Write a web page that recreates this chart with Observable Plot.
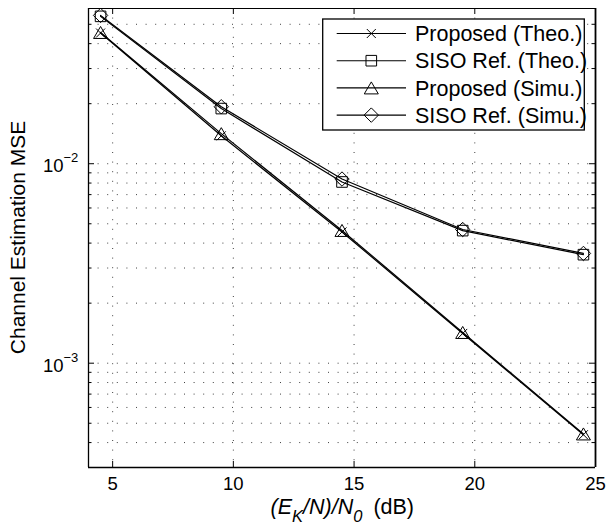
<!DOCTYPE html>
<html>
<head>
<meta charset="utf-8">
<script src="https://cdn.jsdelivr.net/npm/d3@7"></script>
<script src="https://cdn.jsdelivr.net/npm/@observablehq/plot@0.6"></script>
<style>
  html, body { margin: 0; padding: 0; background: #fff; }
</style>
</head>
<body>
<div id="chart"></div>
<script>
// ---- data ----
const snr = [4.5, 9.5, 14.5, 19.5, 24.5];
const proposedTheo = [0.0452, 0.0138, 0.00455, 0.00141, 0.000438];
const sisoTheo     = [0.0548, 0.0189, 0.00810, 0.00462, 0.00350];
const proposedSimu = [0.0455, 0.01415, 0.00463, 0.001426, 0.000442];
const sisoSimu     = [0.0554, 0.0193, 0.00838, 0.00468, 0.00355];
const seriesNames = ["Proposed (Theo.)", "SISO Ref. (Theo.)", "Proposed (Simu.)", "SISO Ref. (Simu.)"];

const xTicks = [5, 10, 15, 20, 25];
const yMajor = [1e-3, 1e-2];
const yExponents = ["−3", "−2"];
const yGrid = [3e-4, 4e-4, 5e-4, 6e-4, 7e-4, 8e-4, 9e-4,
               1e-3, 2e-3, 3e-3, 4e-3, 5e-3, 6e-3, 7e-3, 8e-3, 9e-3,
               1e-2, 2e-2, 3e-2, 4e-2, 5e-2];
const yMinor = yGrid.filter(v => !yMajor.includes(v));
const xDomain = [4, 25];
const yDomain = [3e-4, 0.06];

// ---- MATLAB-like marker symbols ----
const rad = size => Math.sqrt(size / Math.PI);
const timesSym = {draw(c, s) { const r = rad(s); c.moveTo(-r, -r); c.lineTo(r, r); c.moveTo(r, -r); c.lineTo(-r, r); }};
const squareSym = {draw(c, s) { const r = rad(s); c.moveTo(-r, -r); c.lineTo(r, -r); c.lineTo(r, r); c.lineTo(-r, r); c.closePath(); }};
const triSym = {draw(c, s) { const r = rad(s); c.moveTo(0, -r); c.lineTo(r * 1.17, r); c.lineTo(-r * 1.17, r); c.closePath(); }};
const diamondSym = {draw(c, s) { const r = rad(s); c.moveTo(0, -r); c.lineTo(r, 0); c.lineTo(0, r); c.lineTo(-r, 0); c.closePath(); }};

const series = [
  {name: seriesNames[0], values: proposedTheo, symbol: timesSym, r: 4.5},
  {name: seriesNames[1], values: sisoTheo, symbol: squareSym, r: 5.3},
  {name: seriesNames[2], values: proposedSimu, symbol: triSym, r: 6},
  {name: seriesNames[3], values: sisoSimu, symbol: diamondSym, r: 7.2}
];

const W = 608, H = 527, mL = 88, mR = 13, mT = 8, mB = 60;
const pw = W - mL - mR, ph = H - mT - mB;

const dataMarks = series.flatMap(s => {
  const rows = snr.map((x, i) => ({x, y: s.values[i]}));
  return [
    Plot.line(rows, {x: "x", y: "y", stroke: "#000", strokeWidth: 1.2}),
    Plot.dot(rows, {x: "x", y: "y", symbol: () => s.symbol, r: s.r, stroke: "#000", fill: "none", strokeWidth: 1})
  ];
});

const gridStyle = {stroke: "#000", strokeOpacity: 0.75, strokeWidth: 1, strokeDasharray: "1,8.6"};

const chart = Plot.plot({
  width: W, height: H,
  marginLeft: mL, marginRight: mR, marginTop: mT, marginBottom: mB,
  style: {fontFamily: "'Liberation Sans', Arial, Helvetica, sans-serif", background: "#fff", color: "#000"},
  x: {domain: xDomain, axis: null},
  y: {type: "log", domain: yDomain, axis: null},
  symbol: {type: "identity"},
  marks: [
    // grid
    Plot.ruleY(yGrid, {y: d => d, ...gridStyle}),
    Plot.ruleX(xTicks.slice(0, -1), {x: d => d, ...gridStyle}),
    // data
    ...dataMarks,
    // ticks (inward, both sides)
    Plot.tickX(xTicks, {x: d => d, insetTop: ph - 6, stroke: "#000"}),
    Plot.tickX(xTicks, {x: d => d, insetBottom: ph - 6, stroke: "#000"}),
    Plot.tickY(yMajor, {y: d => d, insetRight: pw - 6, stroke: "#000"}),
    Plot.tickY(yMajor, {y: d => d, insetLeft: pw - 6, stroke: "#000"}),
    Plot.tickY(yMinor, {y: d => d, insetRight: pw - 3.5, stroke: "#000"}),
    Plot.tickY(yMinor, {y: d => d, insetLeft: pw - 3.5, stroke: "#000"}),
    // box
    Plot.ruleX([xDomain[0]], {x: d => d, stroke: "#000", strokeWidth: 1.3}),
    Plot.ruleX([xDomain[1]], {x: d => d, stroke: "#000", strokeWidth: 1.8}),
    Plot.ruleY([yDomain[0]], {y: d => d, stroke: "#000", strokeWidth: 1.7}),
    Plot.ruleY([yDomain[1]], {y: d => d, stroke: "#000", strokeWidth: 1.1}),
    // tick labels
    Plot.text(xTicks, {x: d => d, text: d => String(d), frameAnchor: "bottom", dy: 17, fontSize: 18.5, lineAnchor: "middle"}),
    Plot.text(yMajor, {y: d => d, text: () => "10", frameAnchor: "left", textAnchor: "end", dx: -25, dy: 2.5, fontSize: 18.5, lineAnchor: "middle"}),
    Plot.text(yMajor, {y: d => d, text: (d, i) => yExponents[i], frameAnchor: "left", textAnchor: "start", dx: -25, dy: -5.5, fontSize: 13, lineAnchor: "middle"})
  ]
});

document.getElementById("chart").appendChild(chart);

// ---- labels & legend ----
const svg = d3.select(chart);
const yScale = chart.scale("y");

// y-axis label
svg.append("text")
  .attr("transform", `translate(25,${(yScale.apply(yDomain[0]) + yScale.apply(yDomain[1])) / 2}) rotate(-90)`)
  .attr("text-anchor", "middle")
  .attr("font-size", 21)
  .attr("fill", "#000")
  .text("Channel Estimation MSE");

// x-axis label  (E_K/N)/N_0  (dB)
const xl = svg.append("text")
  .attr("x", 270.5).attr("y", 513.5)
  .attr("text-anchor", "start")
  .attr("font-size", 21.5).attr("fill", "#000");
xl.append("tspan").attr("font-style", "italic").text("(E");
xl.append("tspan").attr("font-style", "italic").attr("font-size", 16.5).attr("dy", 8).text("K");
xl.append("tspan").attr("font-style", "italic").attr("dy", -8).text("/N)/N");
xl.append("tspan").attr("font-style", "italic").attr("font-size", 16.5).attr("dy", 8).text("0");
xl.append("tspan").attr("dy", -8).attr("dx", 11).text("(dB)");

// legend
const lg = svg.append("g").attr("text-anchor", "start");
const bx = 322.7, by = 19, bw = 261.6, bh = 111;
lg.append("rect").attr("x", bx).attr("y", by).attr("width", bw).attr("height", bh)
  .attr("fill", "#fff").attr("stroke", "#000").attr("stroke-width", 1.3);
series.forEach((s, i) => {
  const cy = 33.5 + 27.2 * i;
  lg.append("line").attr("x1", 336.7).attr("x2", 406).attr("y1", cy).attr("y2", cy)
    .attr("stroke", "#000").attr("stroke-width", 1.1);
  lg.append("path").attr("transform", `translate(371.3,${cy})`)
    .attr("d", d3.symbol(s.symbol, s.r * s.r * Math.PI)())
    .attr("fill", "none").attr("stroke", "#000").attr("stroke-width", 1);
  lg.append("text").attr("x", 415).attr("y", cy).attr("dy", "0.36em")
    .attr("text-anchor", "start")
    .attr("font-size", 21.5).attr("fill", "#000").text(s.name);
});
</script>
</body>
</html>
